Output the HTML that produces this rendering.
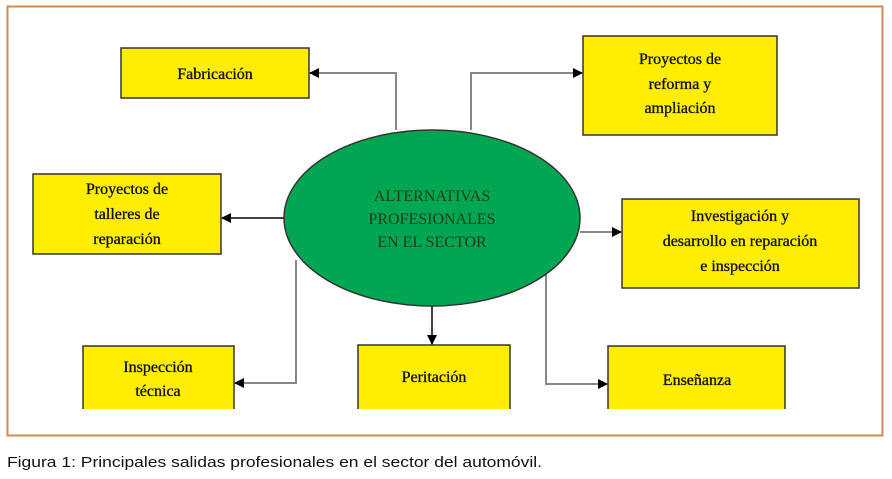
<!DOCTYPE html>
<html><head><meta charset="utf-8"><style>
html,body{margin:0;padding:0;background:#fff;width:892px;height:479px;overflow:hidden}
</style></head><body>
<svg width="892" height="479" viewBox="0 0 892 479" xmlns="http://www.w3.org/2000/svg">
<defs>
<marker id="a" markerWidth="10" markerHeight="10" refX="9" refY="5" orient="auto" markerUnits="userSpaceOnUse">
<path d="M0,0 L10,5 L0,10 Z" fill="#000"/></marker>
</defs>
<rect x="7.5" y="6.5" width="875" height="429" fill="#fff" stroke="#d08a55" stroke-width="2"/>
<g fill="none" stroke="#888" stroke-width="2">
<polyline points="396,130 396,73 310,73" marker-end="url(#a)"/>
<polyline points="471,130 471,73 582,73" marker-end="url(#a)"/>
<polyline points="285,218 222,218" marker-end="url(#a)" stroke="#444"/>
<polyline points="580,232 621,232" marker-end="url(#a)"/>
<polyline points="296,260 296,383 235,383" marker-end="url(#a)"/>
<polyline points="432,306 432,344" marker-end="url(#a)" stroke="#444"/>
<polyline points="546,270 546,384 607,384" marker-end="url(#a)"/>
</g>
<g fill="#ffee00" stroke="#333" stroke-width="1.5">
<rect x="121" y="48" width="188" height="50"/>
<rect x="583" y="36" width="194" height="99"/>
<rect x="33" y="174" width="188" height="80"/>
<rect x="622" y="199" width="237" height="89"/>
<path d="M83,409 V346 H234 V409"/>
<path d="M358,409 V345 H510 V409"/>
<path d="M608,409 V346 H785 V409"/>
</g>
<ellipse cx="432" cy="218" rx="148" ry="88" fill="#00a651" stroke="#333" stroke-width="1.5"/>
<g font-family="Liberation Serif, serif" font-size="16" fill="#111" stroke="#111" stroke-width="0.35" text-anchor="middle">
<text x="215" y="79">Fabricación</text>
<text x="680" y="64">Proyectos de</text>
<text x="680" y="89">reforma y</text>
<text x="680" y="113">ampliación</text>
<text x="127" y="194">Proyectos de</text>
<text x="127" y="219">talleres de</text>
<text x="127" y="244">reparación</text>
<text x="740" y="221">Investigación y</text>
<text x="740" y="246">desarrollo en reparación</text>
<text x="740" y="271">e inspección</text>
<text x="158" y="372">Inspección</text>
<text x="158" y="396">técnica</text>
<text x="434" y="382">Peritación</text>
<text x="697" y="385">Enseñanza</text>
</g>
<g font-family="Liberation Serif, serif" font-size="16" fill="#1a3a1a" text-anchor="middle">
<text x="432" y="201">ALTERNATIVAS</text>
<text x="432" y="224">PROFESIONALES</text>
<text x="432" y="247">EN EL SECTOR</text>
</g>
<text x="7" y="467" font-family="Liberation Sans, sans-serif" font-size="15" fill="#111" textLength="535" lengthAdjust="spacingAndGlyphs">Figura 1: Principales salidas profesionales en el sector del automóvil.</text>
</svg>
</body></html>
